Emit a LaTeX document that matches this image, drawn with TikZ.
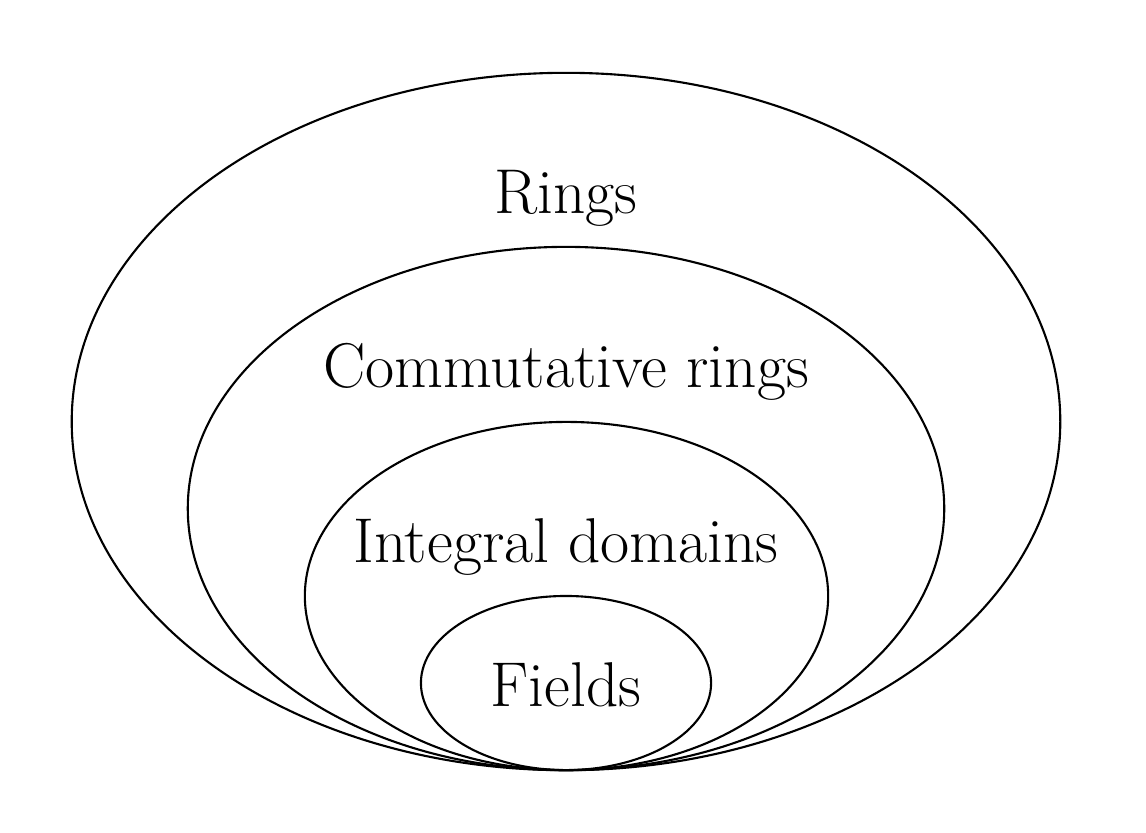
\documentclass[tikz,border=0pt]{standalone}
\begin{document}
\begin{tikzpicture}[x=0.01cm, y=-0.01cm, line width=0.6pt]
\useasboundingbox (0,0) rectangle (1146,832);
\draw (566,421.5) ellipse [x radius=4.94cm, y radius=3.485cm];
\draw (566,508.5) ellipse [x radius=3.78cm, y radius=2.615cm];
\draw (566.5,596) ellipse [x radius=2.615cm, y radius=1.74cm];
\draw (566,683) ellipse [x radius=1.45cm, y radius=0.87cm];
\node [font=\fontsize{18}{22}\selectfont](R) at (566,198){Rings};
\node [font=\fontsize{18}{22}\selectfont](CR) at (566,372){Commutative rings};
\node [font=\fontsize{18}{22}\selectfont](ID) at (566,547){Integral domains};
\node [font=\fontsize{18}{22}\selectfont](F) at (566,685){Fields};
\end{tikzpicture}
\end{document}
